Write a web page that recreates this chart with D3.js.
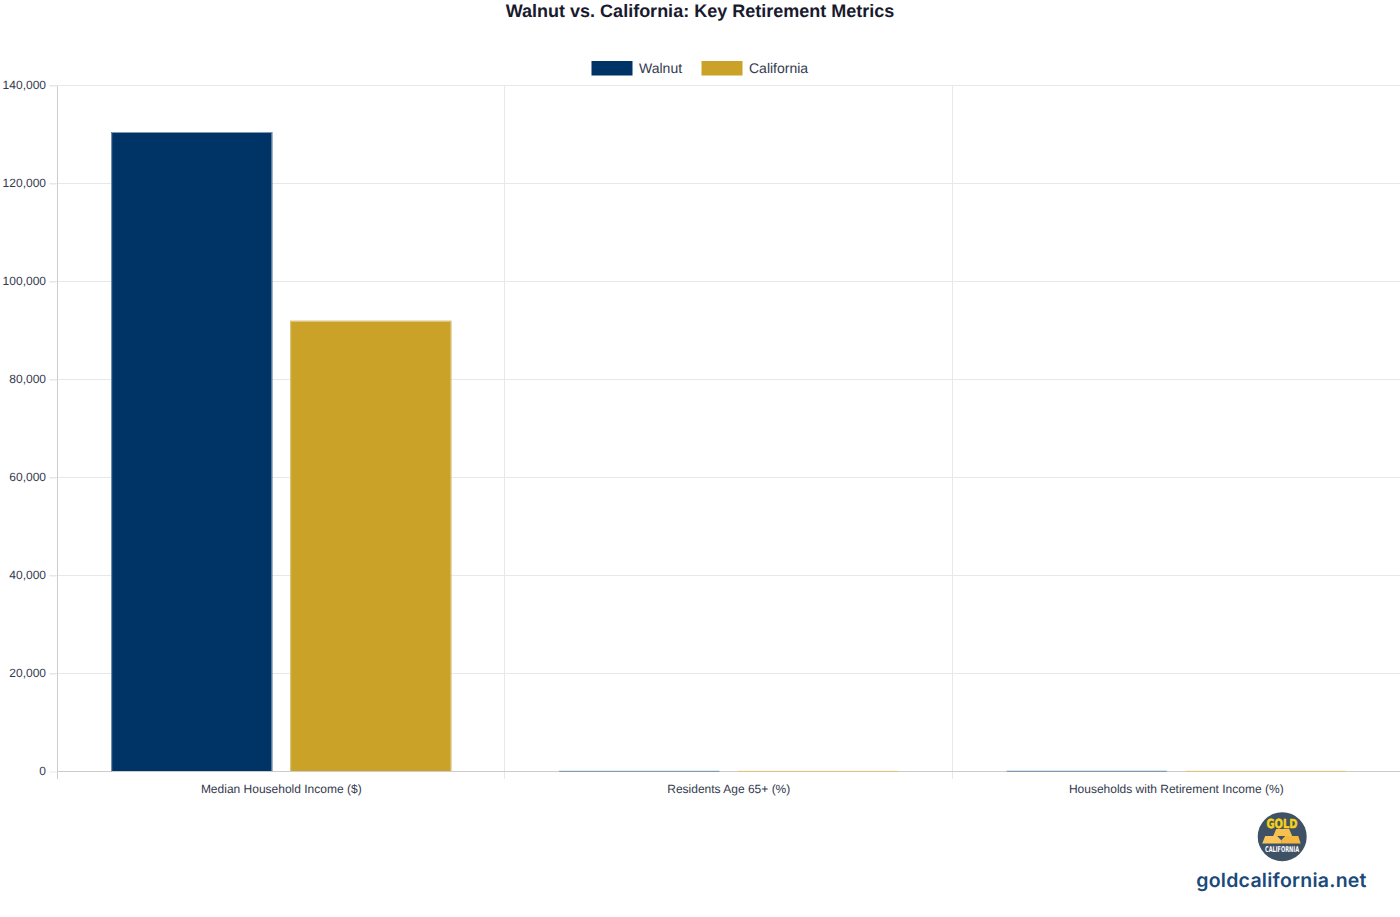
<!DOCTYPE html>
<html>
<head>
<meta charset="utf-8">
<script src="https://cdn.jsdelivr.net/npm/d3@7"></script>
<style>
  html, body { margin: 0; padding: 0; background: #fff; }
  svg { display: block; }
  text { font-family: "Liberation Sans", Arial, sans-serif; text-rendering: geometricPrecision; }
</style>
</head>
<body>
<div id="chart"></div>
<script>
const categories = ["Median Household Income ($)", "Residents Age 65+ (%)", "Households with Retirement Income (%)"];
const seriesNames = ["Walnut", "California"];
const walnutValues = [130400, 20.1, 27.5];
const californiaValues = [91900, 15.8, 18.6];
const yTicks = [0, 20000, 40000, 60000, 80000, 100000, 120000, 140000];
const seriesColors = ["#003366", "#c9a227"];
const seriesBorders = ["#7f9ab5", "#d9c482"];

const width = 1400, height = 917;
const margin = { top: 85, right: 0, bottom: 146, left: 57.5 };

const svg = d3.select("#chart").append("svg")
    .attr("width", width)
    .attr("height", height);

svg.append("text")
    .attr("x", 700)
    .attr("y", 17)
    .attr("text-anchor", "middle")
    .style("font-size", "18px")
    .style("font-weight", "bold")
    .style("fill", "#1a1a2e")
    .text("Walnut vs. California: Key Retirement Metrics");

const x = d3.scaleBand().domain(categories).range([margin.left, width - margin.right]);
// bars take 80% of each category, split between the two series
const x1 = d3.scaleBand().domain(seriesNames).range([x.bandwidth() * 0.1, x.bandwidth() * 0.9]);
const y = d3.scaleLinear().domain([0, 140000]).range([height - margin.bottom, margin.top]);
const snap = v => Math.round(v) + 0.5;

// Grid
svg.append("g").selectAll("line")
    .data(yTicks.slice(1))
    .enter().append("line")
    .attr("x1", margin.left - 8)
    .attr("x2", width)
    .attr("y1", d => snap(y(d)))
    .attr("y2", d => snap(y(d)))
    .attr("stroke", "#e8e8e8");

svg.append("g").selectAll("line")
    .data(categories.slice(1))
    .enter().append("line")
    .attr("x1", d => Math.round(x(d)) - 0.5)
    .attr("x2", d => Math.round(x(d)) - 0.5)
    .attr("y1", margin.top)
    .attr("y2", y(0) + 8)
    .attr("stroke", "#e8e8e8");

// Axes
const yAxis = svg.append("g")
    .attr("transform", `translate(${margin.left},0.5)`)
    .call(d3.axisLeft(y).tickValues(yTicks).tickFormat(d3.format(",")).tickSize(8).tickPadding(3.5));
yAxis.select(".domain").attr("stroke", "#cccccc").attr("d", `M0,${margin.top}V${y(0) + 7.5}`);
yAxis.selectAll(".tick line").attr("stroke", "#e8e8e8");
yAxis.selectAll("text")
    .attr("dy", "0.24em")
    .style("font-family", '"Liberation Sans", Arial, sans-serif')
    .style("font-size", "12px")
    .style("fill", "#333a4d");

const xAxis = svg.append("g")
    .attr("transform", `translate(0,${y(0) + 0.5})`)
    .call(d3.axisBottom(x).tickSize(0).tickPadding(12.5));
xAxis.select(".domain").attr("stroke", "#cccccc").attr("d", `M${margin.left},0H${width}`);
xAxis.selectAll("text")
    .style("font-family", '"Liberation Sans", Arial, sans-serif')
    .style("font-size", "12px")
    .style("fill", "#333a4d");

// Bars
const seriesValues = [walnutValues, californiaValues];
seriesNames.forEach((name, s) => {
    const barWidth = x1.bandwidth() * 0.9;
    const inset = (x1.bandwidth() - barWidth) / 2;
    svg.append("g").selectAll("rect")
        .data(categories)
        .enter().append("rect")
        .attr("x", d => x(d) + x1(name) + inset)
        .attr("y", (d, i) => y(seriesValues[s][i]))
        .attr("width", barWidth)
        .attr("height", (d, i) => y(0) - y(seriesValues[s][i]))
        .attr("fill", seriesColors[s]);

    // border as a path, it stays visible as a flat line on the very short bars
    svg.append("g").selectAll("path")
        .data(categories)
        .enter().append("path")
        .attr("d", (d, i) => {
            const left = x(d) + x1(name) + inset + 0.5;
            const top = snap(y(seriesValues[s][i]));
            return `M${left},${y(0) + 0.5}V${top}H${left + barWidth - 1}V${y(0) + 0.5}`;
        })
        .attr("fill", "none")
        .attr("stroke", seriesBorders[s]);
});

// Legend
const legendX = [591.5, 701.5];
const legend = svg.append("g").selectAll("g")
    .data(seriesNames)
    .enter().append("g")
    .attr("transform", (d, i) => `translate(${legendX[i]},61)`);
legend.append("rect")
    .attr("width", 41)
    .attr("height", 14.5)
    .attr("fill", (d, i) => seriesColors[i]);
legend.append("text")
    .attr("x", 47.5)
    .attr("y", 12)
    .style("font-size", "14px")
    .style("fill", "#333a4d")
    .text(d => d);

// Logo and site name
const logo = svg.append("g").attr("transform", "translate(1282.2,836.7)");
logo.append("circle").attr("r", 24.5).attr("fill", "#3f5164");
logo.append("polygon").attr("points", "-6,-7.7 7,-7.7 10,-0.7 -9,-0.7").attr("fill", "#f8c04e");
logo.append("polygon").attr("points", "-17,-0.7 -1,-0.7 -1,6.7 -20,6.7").attr("fill", "#f9c65c");
logo.append("polygon").attr("points", "-1,-0.7 16,-0.7 18.5,6.7 -1,6.7").attr("fill", "#f4b840");
logo.append("polygon").attr("points", "-5,-0.7 3,-0.7 -1,3.5").attr("fill", "#3f5164");
logo.append("text")
    .attr("x", -0.2)
    .attr("y", -8.4)
    .attr("text-anchor", "middle")
    .attr("textLength", 31)
    .attr("lengthAdjust", "spacingAndGlyphs")
    .style("font-family", '"DejaVu Sans", sans-serif')
    .style("font-size", "12.5px")
    .style("font-weight", "bold")
    .style("fill", "#f7d316")
    .style("stroke", "#f7d316")
    .style("stroke-width", "0.5px")
    .text("GOLD");
logo.append("text")
    .attr("x", -0.2)
    .attr("y", 15.2)
    .attr("text-anchor", "middle")
    .attr("textLength", 34)
    .attr("lengthAdjust", "spacingAndGlyphs")
    .style("font-family", '"DejaVu Sans", sans-serif')
    .style("font-size", "8px")
    .style("font-weight", "bold")
    .style("fill", "#ffffff")
    .text("CALIFORNIA");

svg.append("text")
    .attr("x", 1281.5)
    .attr("y", 886.5)
    .attr("text-anchor", "middle")
    .style("font-family", "Inter, sans-serif")
    .style("font-size", "19.5px")
    .style("font-weight", "600")
    .style("letter-spacing", "0.25px")
    .style("fill", "#1a4a7a")
    .text("goldcalifornia.net");
</script>
</body>
</html>
